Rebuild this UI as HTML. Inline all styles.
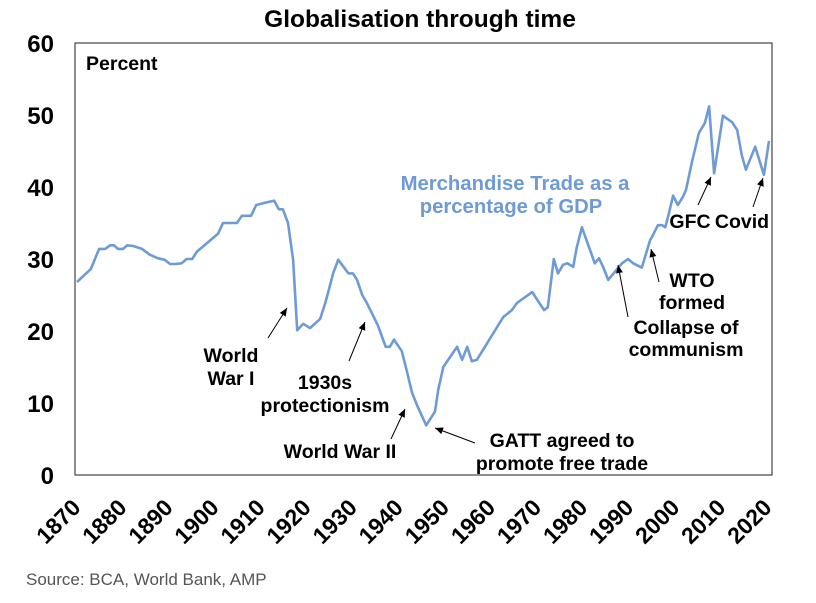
<!DOCTYPE html>
<html><head><meta charset="utf-8"><style>
html,body{margin:0;padding:0;background:#fff;}
svg text{font-family:"Liberation Sans",Arial,sans-serif;}
</style></head><body>
<svg id="chart" width="816" height="598" viewBox="0 0 816 598" xmlns="http://www.w3.org/2000/svg">
<text x="420" y="27" text-anchor="middle" font-size="24.5" font-weight="bold">Globalisation through time</text>
<rect x="75" y="43" width="697" height="432" fill="none" stroke="#444" stroke-width="1.2"/>
<g id="yaxis"></g>
<g id="xaxis"></g>
<text x="86" y="70" font-size="19.5" font-weight="bold">Percent</text>
<g id="series"></g>
<text x="515" y="190" text-anchor="middle" font-size="20.3" font-weight="bold" fill="#6e9bd6">Merchandise Trade as a</text>
<text x="511" y="213" text-anchor="middle" font-size="20.3" font-weight="bold" fill="#6e9bd6">percentage of GDP</text>
<g font-size="19.5" font-weight="bold" text-anchor="middle">
<text x="231" y="362">World</text>
<text x="231" y="385">War I</text>
<text x="325" y="389">1930s</text>
<text x="325" y="412">protectionism</text>
<text x="340" y="458">World War II</text>
<text x="562" y="447">GATT agreed to</text>
<text x="562" y="470">promote free trade</text>
<text x="692" y="287">WTO</text>
<text x="692" y="309">formed</text>
<text x="686" y="334">Collapse of</text>
<text x="686" y="356">communism</text>
<text x="690" y="228">GFC</text>
<text x="742" y="228">Covid</text>
</g>
<g id="arrows"></g>
<text x="26" y="585" font-size="17" fill="#555">Source: BCA, World Bank, AMP</text>
</svg>
<script>
const years=[1870,1873,1874.8,1876.1,1877.2,1878,1878.9,1880,1880.9,1882.2,1884.1,1885.8,1887.6,1889,1890.2,1891.3,1892.7,1893.8,1895,1896,1900.6,1901.7,1904.7,1905.8,1907.8,1908.9,1910.8,1912.8,1913.8,1914.7,1915.8,1916.9,1917.8,1919.1,1920.6,1922.8,1923.9,1924.7,1925.6,1926.7,1928.9,1929.9,1930.8,1931.9,1932.9,1935.3,1937,1937.9,1938.8,1940.5,1941.6,1942.7,1943.8,1945.8,1947.7,1948.4,1949.5,1952.5,1953.6,1954.7,1955.7,1956.8,1962.5,1964.4,1965.5,1968.8,1971.4,1972.2,1973.5,1974.4,1975.5,1976.4,1977.7,1978.5,1979.6,1982.4,1983.3,1984.2,1985.3,1988.3,1989.6,1990.7,1992.6,1994.4,1995,1996.1,1997,1997.7,1998.5,1999.4,2000.4,2001.5,2002.2,2003.5,2005,2006.3,2007.2,2008.3,2010.2,2012.2,2013.3,2014.3,2015.2,2017.2,2019.1,2020.2];
const tradeShare=[26.8,28.6,31.4,31.4,31.9,31.9,31.4,31.4,31.9,31.8,31.4,30.6,30.1,29.9,29.3,29.3,29.4,30,30,31,33.5,35,35,36,36,37.5,37.8,38.1,36.9,36.9,35,29.9,20.1,21,20.4,21.7,23.9,25.8,28,29.9,28,28,27.1,25,23.9,20.8,17.8,17.8,18.8,17.2,14.4,11.5,9.7,6.9,8.8,11.8,15,17.8,16,17.8,15.8,16,21.9,22.9,23.9,25.4,22.9,23.3,30,28,29.2,29.4,28.9,31.7,34.4,29.4,30.1,28.9,27.1,29.4,30,29.4,28.8,32.6,33.3,34.7,34.7,34.4,36.4,38.8,37.5,38.6,39.6,43.5,47.5,48.9,51.2,41.9,49.9,49,47.9,44.4,42.4,45.6,41.7,46.4];
const yTicks=[0,10,20,30,40,50,60];
const xTicks=[1870,1880,1890,1900,1910,1920,1930,1940,1950,1960,1970,1980,1990,2000,2010,2020];
const NS="http://www.w3.org/2000/svg";
function xs(y){return 77+(y-1870)*4.607;}
function ys(v){return 475-v*7.2;}
function mk(tag,attrs,parent){const e=document.createElementNS(NS,tag);for(const k in attrs)e.setAttribute(k,attrs[k]);parent.appendChild(e);return e;}
const ya=document.getElementById('yaxis');
yTicks.forEach(t=>{const e=mk('text',{x:54,y:ys(t)+9,'text-anchor':'end','font-size':'24','font-weight':'bold'},ya);


e.textContent=t;});
const xa=document.getElementById('xaxis');
xTicks.forEach(t=>{const x=xs(t)+5,y=509;const e=mk('text',{x:x,y:y,'text-anchor':'end','font-size':'23','font-weight':'bold',transform:'rotate(-45 '+x+' '+y+')'},xa);


e.textContent=t;});
const s=document.getElementById('series');
const p=mk('path',{d:years.map((y,i)=>(i?'L':'M')+xs(y).toFixed(1)+' '+ys(tradeShare[i]).toFixed(1)).join(' '),fill:'none',stroke:'#6e9bd6','stroke-width':'2.6','stroke-linejoin':'round'},s);


const arrows=[[268,338,287,308],[349,361,365,322],[391,439,405,409],[475,443,435,428],[628,317,618,265],[659,282,651,249],[698,205,711,177],[753,207,763,178]];
const ag=document.getElementById('arrows');
arrows.forEach(a=>{const [x1,y1,x2,y2]=a;const l=mk('line',{x1:x1,y1:y1,x2:x2,y2:y2,stroke:'#000','stroke-width':'1'},ag);


const ang=Math.atan2(y2-y1,x2-x1),L=8,W=3.5;
const bx=x2-L*Math.cos(ang),by=y2-L*Math.sin(ang);
const pts=[x2,y2,bx+W*Math.sin(ang),by-W*Math.cos(ang),bx-W*Math.sin(ang),by+W*Math.cos(ang)];
const h=mk('polygon',{points:pts.map(v=>v.toFixed(1)).join(' '),fill:'#000'},ag);

});
</script>
</body></html>
